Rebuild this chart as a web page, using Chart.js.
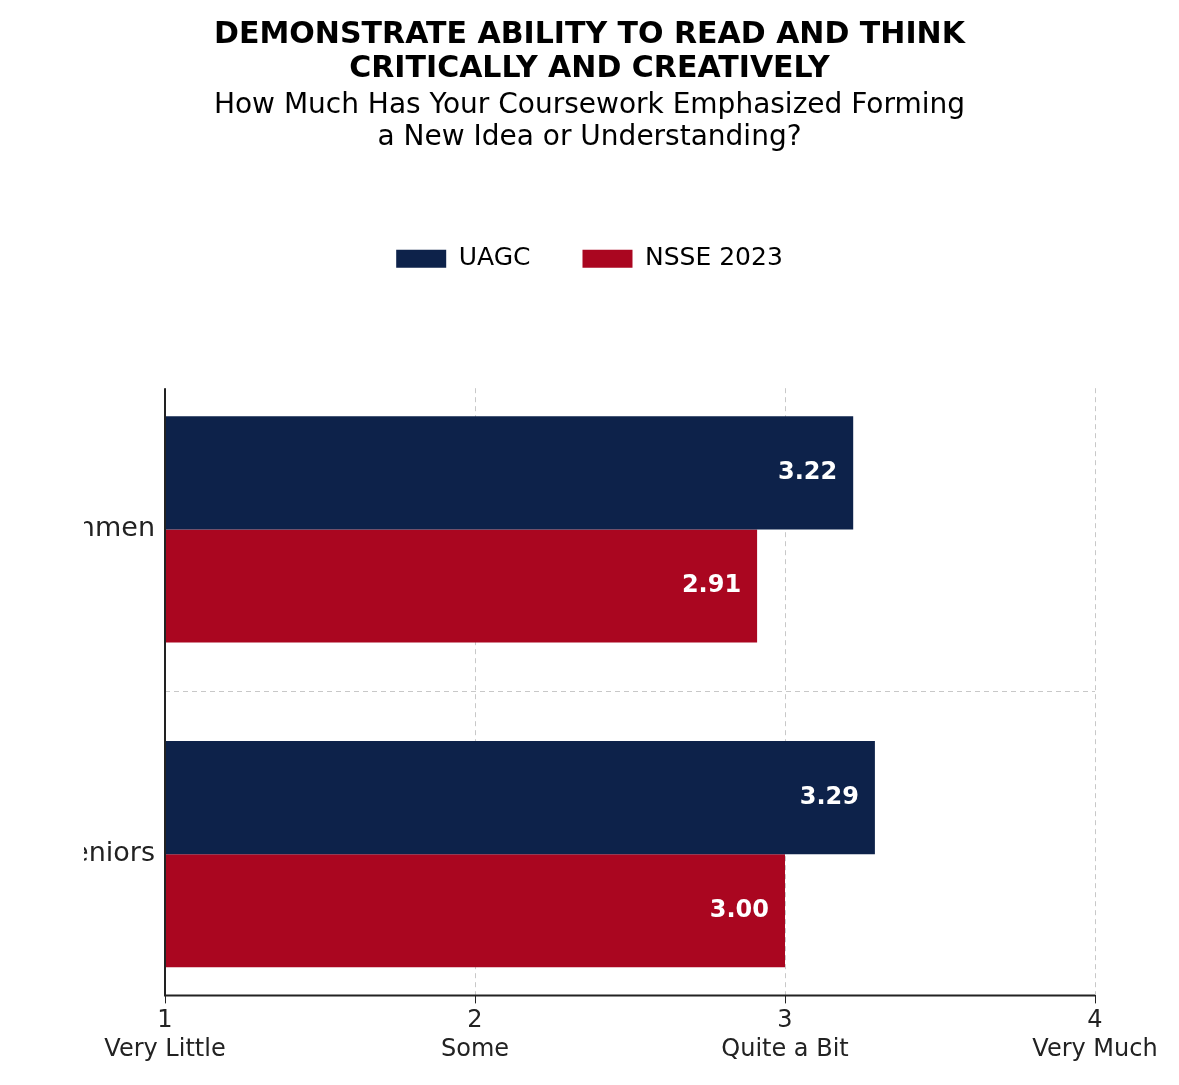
<!DOCTYPE html>
<html>
<head>
<meta charset="utf-8">
<script src="https://cdn.jsdelivr.net/npm/chart.js@4"></script>
<style>
  body { margin: 0; background: #fff; }
  #wrap { width: 1179px; height: 1085px; }
</style>
</head>
<body>
<div id="wrap"><canvas id="chart"></canvas></div>
<script>
const groups = ['Freshmen', 'Seniors'];
const uagc = [3.22, 3.29];
const nsse = [2.91, 3.00];
const xTickLabels = { 1: 'Very Little', 2: 'Some', 3: 'Quite a Bit', 4: 'Very Much' };

const FONT = "'DejaVu Sans', sans-serif";

const valueLabels = {
  id: 'valueLabels',
  afterDatasetsDraw(chart) {
    const ctx = chart.ctx;
    ctx.save();
    ctx.font = 'bold 24px ' + FONT;
    ctx.fillStyle = '#fff';
    ctx.textAlign = 'right';
    ctx.textBaseline = 'middle';
    chart.data.datasets.forEach((ds, i) => {
      chart.getDatasetMeta(i).data.forEach((bar, j) => {
        ctx.fillText(ds.data[j].x.toFixed(2), bar.x - 16, bar.y);
      });
    });
    ctx.restore();
  }
};

const legendGap = {
  id: 'legendGap',
  beforeInit(chart) {
    const orig = chart.legend.fit;
    chart.legend.fit = function () {
      orig.call(this);
      this.height += 107;
    };
  }
};

// solid left and bottom spines
const spines = {
  id: 'spines',
  afterDatasetsDraw(chart) {
    const { ctx, chartArea: a } = chart;
    ctx.save();
    ctx.strokeStyle = '#222';
    ctx.lineWidth = 2;
    ctx.setLineDash([]);
    ctx.beginPath();
    ctx.moveTo(a.left, a.top);
    ctx.lineTo(a.left, a.bottom);
    ctx.lineTo(a.right, a.bottom);
    ctx.stroke();
    ctx.restore();
  }
};

new Chart(document.getElementById('chart'), {
  type: 'bar',
  data: {
    datasets: [
      { label: 'UAGC', data: groups.map((g, i) => ({ x: uagc[i], y: i })), backgroundColor: '#0d224a' },
      { label: 'NSSE 2023', data: groups.map((g, i) => ({ x: nsse[i], y: i })), backgroundColor: '#aa0620' }
    ]
  },
  options: {
    indexAxis: 'y',
    responsive: true,
    maintainAspectRatio: false,
    animation: false,
    categoryPercentage: 0.697,
    barPercentage: 1,
    layout: { padding: { top: 18, right: 84, bottom: 18, left: 84 } },
    plugins: {
      title: {
        display: true,
        text: ['DEMONSTRATE ABILITY TO READ AND THINK', 'CRITICALLY AND CREATIVELY'],
        color: '#000',
        font: { family: FONT, size: 30, weight: 'bold', lineHeight: 1.13 },
        padding: { top: 0, bottom: 4 }
      },
      subtitle: {
        display: true,
        text: ['How Much Has Your Coursework Emphasized Forming', 'a New Idea or Understanding?'],
        color: '#000',
        font: { family: FONT, size: 28, lineHeight: 1.15 },
        padding: { top: 0, bottom: 40 }
      },
      legend: {
        labels: {
          color: '#000',
          font: { family: FONT, size: 25 },
          boxWidth: 50,
          boxHeight: 18,
          padding: 52
        }
      },
      tooltip: { enabled: false }
    },
    scales: {
      x: {
        type: 'linear',
        min: 1,
        max: 4,
        afterBuildTicks(scale) { scale.ticks = [1, 2, 3, 4].map(v => ({ value: v })); },
        ticks: {
          color: '#222',
          font: { family: FONT, size: 24 },
          callback: v => [String(v), xTickLabels[v]]
        },
        grid: { color: '#c8c8c8', tickColor: '#222', tickLength: 8, drawTicks: true },
        border: { display: false, dash: [5, 4] }
      },
      y: {
        type: 'linear',
        reverse: true,
        offset: false,
        min: -0.435,
        max: 1.435,
        afterBuildTicks(scale) { scale.ticks = [{ value: 0 }, { value: 1 }]; },
        afterFit(scale) { scale.width = 81; },
        ticks: {
          color: '#222',
          font: { family: FONT, size: 27 },
          padding: 10,
          callback: v => groups[v]
        },
        grid: { color: '#c8c8c8', drawTicks: false },
        border: { display: false, dash: [5, 4] }
      }
    }
  },
  plugins: [valueLabels, legendGap, spines]
});
</script>
</body>
</html>
